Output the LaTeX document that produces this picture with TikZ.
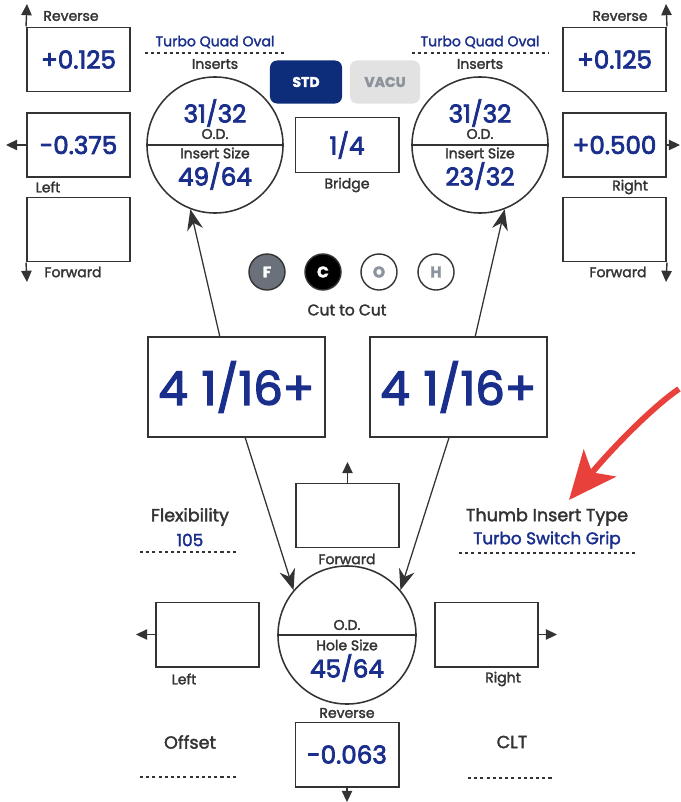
\documentclass[tikz,border=0pt]{standalone}
\usepackage{fontspec}
\setmainfont{Poppins}[FakeBold=2]
\newfontfamily\valfont{Poppins}[FakeBold=3]
\usetikzlibrary{arrows.meta}
\definecolor{ink}{HTML}{333333}
\definecolor{valblue}{HTML}{1A2E8C}
\definecolor{stdnavy}{HTML}{0D2D7A}
\definecolor{vacugray}{HTML}{E2E2E2}
\definecolor{chipgray}{HTML}{6B717A}
\definecolor{softgray}{HTML}{8C939C}
\definecolor{hintred}{HTML}{E8413C}
\tikzset{
  valbox/.style={draw=ink, line width=1.4pt, minimum width=2.575cm, minimum height=1.6cm, inner sep=0pt, text=valblue, font=\valfont\fontsize{17.5}{18}\selectfont},
  bridgebox/.style={valbox, minimum height=1.375cm},
  bigbox/.style={valbox, minimum width=4.425cm, minimum height=2.5cm, font=\valfont\fontsize{33}{34}\selectfont},
  ring/.style={circle, draw=ink, line width=1.1pt, minimum size=3.4cm, inner sep=0pt},
  frac/.style={text=valblue, inner sep=0pt, font=\valfont\fontsize{17.5}{18}\selectfont},
  lbl/.style={text=ink, inner sep=0pt, font=\fontsize{10}{10}\selectfont},
  midlbl/.style={text=ink, inner sep=0pt, font=\fontsize{12.5}{13}\selectfont},
  tag/.style={text=valblue, inner sep=0pt, font=\fontsize{10}{10}\selectfont},
  midtag/.style={text=valblue, inner sep=0pt, font=\fontsize{12}{12}\selectfont},
  toggle/.style={rounded corners=5pt, minimum width=1.8cm, minimum height=1.075cm, inner sep=0pt, font=\bfseries\fontsize{10}{10}\selectfont},
  chip/.style={circle, draw=ink, line width=1pt, minimum size=0.9cm, inner sep=0pt, font=\bfseries\fontsize{11}{11}\selectfont},
  dotrule/.style={draw=ink, line width=1.5pt, dash pattern=on 2.2pt off 2.2pt},
  pointer/.style={-{Stealth[length=5.2mm,width=4mm]}, draw=ink, line width=0.9pt},
  nudge/.style={-{Triangle[length=2.8mm,width=2.6mm]}, draw=ink, line width=1pt},
  hint/.style={-{Stealth[length=12mm,width=10.5mm,inset=3mm]}, draw=hintred, line width=4.2pt}
}
\begin{document}
\begin{tikzpicture}[x=0.025cm,y=-0.025cm]
\useasboundingbox (0,0) rectangle (680,802);
% left offsets
\node[valbox] (lrev) at (78.5,59.5) {+0.125};
\node[valbox] (llft) at (78.5,145) {-0.375};
\node[valbox] (lfwd) at (78.5,229.5) {};
\coordinate (lup) at (27,4);
\coordinate (ldn) at (27,282);
\coordinate (lout) at (6,145);
\draw[nudge] (lrev.north west) -- (lup);
\draw[nudge] (lfwd.south west) -- (ldn);
\draw[nudge] (llft.west) -- (lout);
\node[lbl] (lrevl) at (71,16) {Reverse};
\node[lbl] (llftl) at (48,187) {Left};
\node[lbl] (lfwdl) at (73,272) {Forward};
% right offsets
\node[valbox] (rrev) at (614.5,59.5) {+0.125};
\node[valbox] (rrgt) at (614.5,145) {+0.500};
\node[valbox] (rfwd) at (614.5,229.5) {};
\coordinate (rup) at (666,4);
\coordinate (rdn) at (666,282);
\coordinate (rout) at (680,145);
\draw[nudge] (rrev.north east) -- (rup);
\draw[nudge] (rfwd.south east) -- (rdn);
\draw[nudge] (rrgt.east) -- (rout);
\node[lbl] (rrevl) at (620,16) {Reverse};
\node[lbl] (rrgtl) at (630,187) {Right};
\node[lbl] (rfwdl) at (618,272) {Forward};
% inserts
\node[tag] (ltype) at (215,42) {Turbo Quad Oval};
\draw[dotrule] (145,53) -- (284,53);
\node[lbl] (lins) at (215,64) {Inserts};
\node[ring] (lc) at (215,145) {};
\draw[draw=ink, line width=1.1pt] (lc.west) -- (lc.east);
\node[frac] (lod) at (215,113) {31/32};
\node[lbl] (lodl) at (215,134) {O.D.};
\node[lbl] (lisl) at (215,153) {Insert Size};
\node[frac] (lis) at (215,176) {49/64};
\node[tag] (rtype) at (480,42) {Turbo Quad Oval};
\draw[dotrule] (412,53) -- (549,53);
\node[lbl] (rins) at (480,64) {Inserts};
\node[ring] (rc) at (480,145) {};
\draw[draw=ink, line width=1.1pt] (rc.west) -- (rc.east);
\node[frac] (rod) at (480,113) {31/32};
\node[lbl] (rodl) at (480,134) {O.D.};
\node[lbl] (risl) at (480,153) {Insert Size};
\node[frac] (ris) at (480,176) {23/32};
% switch and bridge
\node[toggle, fill=stdnavy, text=white] (std) at (306,82) {STD};
\node[toggle, fill=vacugray, text=softgray, minimum width=1.75cm] (vacu) at (385,82) {VACU};
\node[bridgebox] (brg) at (347,145) {1/4};
\node[lbl] (brgl) at (347,185) {Bridge};
% finger cut
\node[chip, fill=chipgray, text=white] (cf) at (267,272) {F};
\node[chip, fill=black, text=white] (cc) at (323,272) {C};
\node[chip, fill=white, text=softgray] (co) at (379,272) {O};
\node[chip, fill=white, text=softgray] (ch) at (436,272) {H};
\node[midlbl, font=\fontsize{11}{11}\selectfont] (ctc) at (347,310) {Cut to Cut};
% spans
\node[bigbox] (lspan) at (236.5,387) {4\kern0.3em1/16+};
\node[bigbox] (rspan) at (458.5,387) {4\kern0.3em1/16+};
\draw[pointer] ([xshift=-0.42cm]lspan.north) -- (lc.249);
\draw[pointer] ([xshift=0.42cm]rspan.north) -- (rc.291);
% thumb
\node[valbox] (tfwd) at (347.5,515.5) {};
\coordinate (tup) at (347.5,462);
\draw[nudge] (tfwd.north) -- (tup);
\node[lbl] (tfwdl) at (347,559) {Forward};
\node[ring, minimum size=3.45cm] (tc) at (347,635) {};
\draw[draw=ink, line width=1.1pt] (tc.west) -- (tc.east);
\node[lbl] (todl) at (347,625) {O.D.};
\node[lbl] (thsl) at (347,645) {Hole Size};
\node[frac] (ths) at (347,668) {45/64};
\draw[pointer] ([xshift=0.22cm]lspan.south) -- (tc.140);
\draw[pointer] ([xshift=-0.24cm]rspan.south) -- (tc.40);
\node[valbox] (tlft) at (207.5,634.5) {};
\coordinate (tlout) at (136,634.5);
\draw[nudge] (tlft.west) -- (tlout);
\node[lbl] (tlftl) at (184,679) {Left};
\node[valbox] (trgt) at (486.5,634.5) {};
\coordinate (trout) at (557,634.5);
\draw[nudge] (trgt.east) -- (trout);
\node[lbl] (trgtl) at (503,679) {Right};
\node[lbl] (trevl) at (347,713) {Reverse};
\node[valbox] (trev) at (347,754.5) {-0.063};
\coordinate (tdn) at (347,802);
\draw[nudge] (trev.south) -- (tdn);
% specs
\node[midlbl] (flex) at (190,517) {Flexibility};
\node[midtag] (flexv) at (190,540) {105};
\draw[dotrule] (140,552) -- (237,552);
\node[midlbl] (tit) at (547,517) {Thumb Insert Type};
\node[midtag] (titv) at (547,540) {Turbo Switch Grip};
\draw[dotrule] (459,553) -- (637,553);
\node[midlbl] (offs) at (190,742) {Offset};
\draw[dotrule] (140,777) -- (237,777);
\node[midlbl] (clt) at (512,742) {CLT};
\draw[dotrule] (468,778) -- (554,778);
% pointer to thumb insert type
\coordinate (hs) at (679,389);
\coordinate (he) at (569,500);
\draw[hint] (hs) .. controls (655,405) and (615,445) .. (he);
\end{tikzpicture}
\end{document}
